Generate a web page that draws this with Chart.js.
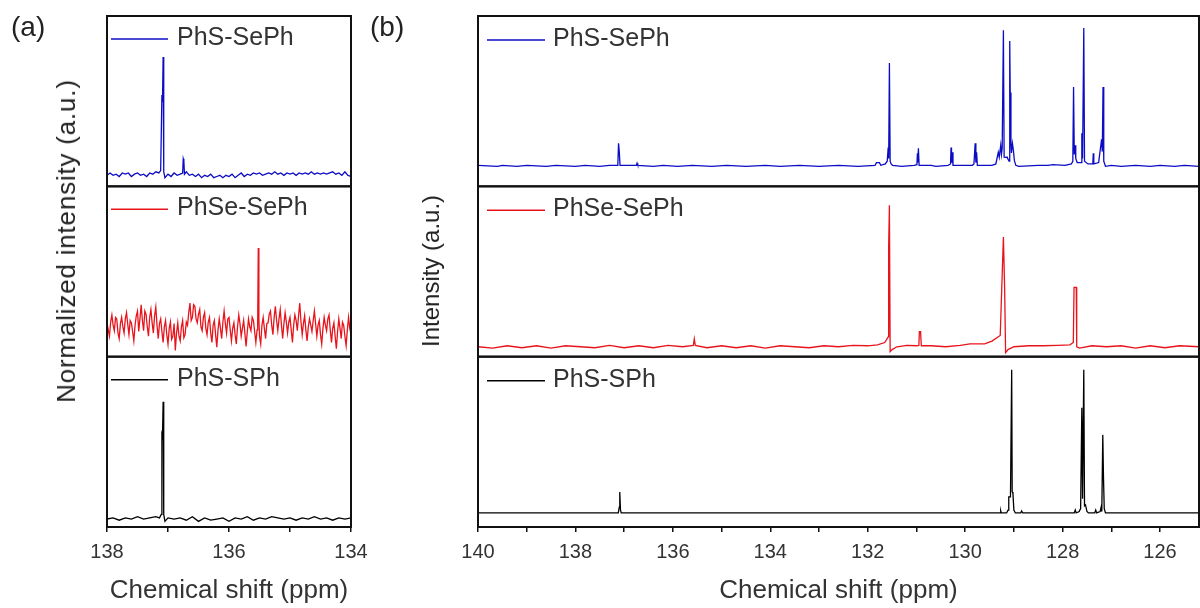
<!DOCTYPE html>
<html>
<head>
<meta charset="utf-8">
<script src="https://cdn.jsdelivr.net/npm/chart.js@4.4.1/dist/chart.umd.min.js"></script>
<style>
  body { margin: 0; background: #fff; font-family: "Liberation Sans", Arial, sans-serif; }
  #wrap { position: relative; width: 1200px; height: 608px; overflow: hidden; }
  canvas { position: absolute; top: 0; }
  #chartA { left: 0; }
  #chartB { left: 370px; }
  .lbl { position: absolute; color: #222; white-space: nowrap; line-height: 1; }
  .panel { font-size: 28px; top: 13px; }
  .ytitle { font-size: 26px; transform: translate(-50%, -50%) rotate(-90deg); }
</style>
</head>
<body>
<div id="wrap">
  <canvas id="chartA" width="380" height="608"></canvas>
  <canvas id="chartB" width="830" height="608"></canvas>
  <div class="lbl panel" style="left:11px">(a)</div>
  <div class="lbl panel" style="left:370px">(b)</div>
  <div class="lbl ytitle" style="left:66px; top:241px; letter-spacing:0.8px">Normalized intensity (a.u.)</div>
  <div class="lbl ytitle" style="left:431px; top:271px; font-size:24px">Intensity (a.u.)</div>
</div>
<script>
// panel (a): 138-134 ppm, [shift, intensity]
const aPhSSePh = [
  [138.00, 0.00], [137.95, 0.02], [137.90, 0.00], [137.85, 0.01], [137.80, -0.01], [137.75, 0.02],
  [137.70, 0.01], [137.65, 0.02], [137.60, -0.01], [137.55, 0.01], [137.50, 0.02], [137.45, 0.00],
  [137.40, 0.01], [137.35, -0.01], [137.30, 0.02], [137.25, 0.01], [137.20, 0.03], [137.15, 0.02],
  [137.12, 0.04], [137.10, 0.68], [137.09, 0.62], [137.08, 1.00], [137.07, 0.03], [137.05, -0.02],
  [137.00, 0.01], [136.95, -0.01], [136.90, 0.02], [136.85, 0.00], [136.80, 0.01], [136.76, 0.02],
  [136.75, 0.14], [136.74, 0.12], [136.73, 0.01], [136.70, 0.03], [136.65, 0.00], [136.60, 0.01],
  [136.55, -0.01], [136.50, 0.01], [136.45, -0.02], [136.40, 0.00], [136.35, -0.01], [136.30, 0.01],
  [136.25, -0.02], [136.20, -0.01], [136.15, 0.00], [136.10, -0.02], [136.05, 0.00], [136.00, -0.01],
  [135.95, 0.01], [135.90, -0.02], [135.85, 0.00], [135.80, 0.02], [135.75, -0.01], [135.70, 0.01],
  [135.65, 0.00], [135.60, 0.02], [135.55, 0.01], [135.50, 0.02], [135.45, 0.00], [135.40, 0.01],
  [135.35, 0.02], [135.30, 0.01], [135.25, 0.03], [135.20, 0.01], [135.15, 0.02], [135.10, 0.00],
  [135.05, 0.02], [135.00, 0.01], [134.95, 0.02], [134.90, 0.00], [134.85, 0.02], [134.80, 0.01],
  [134.75, 0.02], [134.70, 0.01], [134.65, 0.03], [134.60, 0.01], [134.55, 0.02], [134.50, 0.01],
  [134.45, 0.02], [134.40, 0.01], [134.35, 0.02], [134.30, 0.03], [134.25, 0.01], [134.20, 0.02],
  [134.15, 0.00], [134.10, 0.03], [134.05, 0.00], [134.00, -0.01]
];
const aPhSeSePh = [
  [138.00, 0.05], [137.98, -0.04], [137.96, -0.12], [137.94, 0.06], [137.92, 0.15], [137.90, 0.02],
  [137.88, -0.05], [137.86, 0.12], [137.84, 0.10], [137.82, -0.08], [137.80, -0.15], [137.78, 0.04],
  [137.76, 0.12], [137.74, 0.00], [137.72, -0.08], [137.70, 0.10], [137.68, 0.18], [137.66, 0.03],
  [137.64, -0.10], [137.62, 0.08], [137.60, 0.05], [137.58, -0.06], [137.56, -0.18], [137.54, 0.02],
  [137.52, 0.14], [137.50, 0.20], [137.48, -0.06], [137.46, 0.10], [137.44, 0.28], [137.42, 0.08],
  [137.40, -0.05], [137.38, 0.20], [137.36, 0.16], [137.34, 0.00], [137.32, -0.12], [137.30, 0.12],
  [137.28, 0.22], [137.26, 0.05], [137.24, -0.08], [137.22, 0.14], [137.20, 0.25], [137.18, 0.02],
  [137.16, -0.15], [137.14, 0.04], [137.12, 0.10], [137.10, -0.06], [137.08, -0.20], [137.06, 0.00],
  [137.04, 0.08], [137.02, -0.10], [137.00, -0.22], [136.98, -0.02], [136.96, 0.06], [136.94, -0.16],
  [136.92, -0.12], [136.90, 0.04], [136.88, -0.30], [136.86, -0.08], [136.84, 0.05], [136.82, -0.12],
  [136.80, -0.18], [136.78, 0.00], [136.76, 0.08], [136.74, -0.14], [136.72, -0.10], [136.70, 0.06],
  [136.68, 0.02], [136.66, 0.18], [136.64, 0.30], [136.62, 0.08], [136.60, 0.12], [136.58, 0.28],
  [136.56, 0.26], [136.54, 0.10], [136.52, 0.05], [136.50, 0.16], [136.48, 0.22], [136.46, 0.00],
  [136.44, -0.05], [136.42, 0.12], [136.40, 0.18], [136.38, -0.02], [136.36, -0.10], [136.34, 0.06],
  [136.32, 0.12], [136.30, -0.08], [136.28, -0.20], [136.26, 0.02], [136.24, 0.08], [136.22, -0.10],
  [136.20, -0.26], [136.18, -0.04], [136.16, 0.10], [136.14, -0.02], [136.12, -0.15], [136.10, 0.06],
  [136.08, 0.20], [136.06, 0.04], [136.04, -0.08], [136.02, 0.10], [136.00, 0.12], [135.98, -0.04],
  [135.96, -0.18], [135.94, -0.02], [135.92, 0.05], [135.90, -0.10], [135.88, -0.22], [135.86, 0.00],
  [135.84, 0.15], [135.82, 0.04], [135.80, -0.12], [135.78, -0.02], [135.76, 0.08], [135.74, -0.08],
  [135.72, -0.25], [135.70, -0.06], [135.68, 0.10], [135.66, 0.00], [135.64, -0.05], [135.62, 0.12],
  [135.60, 0.08], [135.58, -0.06], [135.56, -0.20], [135.54, -0.04], [135.53, 0.05], [135.52, 1.00],
  [135.51, 0.10], [135.50, -0.12], [135.48, -0.22], [135.46, 0.02], [135.44, 0.12], [135.42, -0.02],
  [135.40, -0.15], [135.38, 0.04], [135.36, 0.05], [135.34, 0.16], [135.32, 0.20], [135.30, 0.02],
  [135.28, -0.10], [135.26, 0.12], [135.24, 0.26], [135.22, 0.08], [135.20, -0.05], [135.18, 0.10],
  [135.16, 0.22], [135.14, 0.02], [135.12, -0.15], [135.10, 0.04], [135.08, 0.18], [135.06, 0.06],
  [135.04, -0.08], [135.02, 0.06], [135.00, 0.12], [134.98, -0.04], [134.96, -0.20], [134.94, 0.02],
  [134.92, 0.15], [134.90, 0.08], [134.88, -0.05], [134.86, 0.14], [134.84, 0.30], [134.82, 0.06],
  [134.80, -0.10], [134.78, 0.04], [134.76, 0.14], [134.74, -0.04], [134.72, -0.18], [134.70, 0.00],
  [134.68, 0.10], [134.66, 0.02], [134.64, -0.06], [134.62, 0.08], [134.60, 0.20], [134.58, 0.04],
  [134.56, -0.12], [134.54, 0.02], [134.52, 0.08], [134.50, -0.10], [134.48, -0.22], [134.46, -0.02],
  [134.44, 0.12], [134.42, 0.02], [134.40, -0.05], [134.38, 0.10], [134.36, 0.15], [134.34, -0.04],
  [134.32, -0.20], [134.30, -0.02], [134.28, 0.05], [134.26, -0.12], [134.24, -0.28], [134.22, -0.06],
  [134.20, 0.10], [134.18, -0.02], [134.16, -0.15], [134.14, 0.06], [134.12, 0.02], [134.10, -0.12],
  [134.08, -0.24], [134.06, -0.04], [134.04, 0.12], [134.02, -0.02], [134.00, -0.10]
];
const aPhSSPh = [
  [138.0, 0.00], [137.9, 0.01], [137.8, -0.01], [137.7, 0.01], [137.6, 0.00], [137.5, 0.02],
  [137.4, 0.00], [137.3, 0.01], [137.2, 0.02], [137.14, 0.01], [137.11, 0.04], [137.10, 0.72],
  [137.09, 0.70], [137.08, 1.00], [137.07, 0.04], [137.05, -0.02], [137.0, 0.01], [136.9, 0.00],
  [136.8, 0.01], [136.7, -0.01], [136.6, 0.02], [136.5, -0.02], [136.4, 0.01], [136.3, -0.01],
  [136.2, 0.00], [136.1, 0.01], [136.0, -0.02], [135.9, 0.01], [135.8, 0.00], [135.7, 0.02],
  [135.6, -0.01], [135.5, 0.01], [135.4, 0.00], [135.3, 0.02], [135.2, 0.01], [135.1, 0.00],
  [135.0, 0.01], [134.9, -0.01], [134.8, 0.01], [134.7, 0.00], [134.6, 0.02], [134.5, 0.00],
  [134.4, 0.01], [134.3, -0.01], [134.2, 0.01], [134.1, 0.00], [134.0, 0.01]
];

// panel (b): 140-125.2 ppm
const bPhSSePh = [
  [140.0, 0], [139.6, -0.007], [139.5, 0], [139.2, -0.007], [139.0, 0], [138.6, -0.007], [138.4, 0],
  [138.0, -0.007], [137.8, 0], [137.5, -0.007], [137.3, 0], [137.13, 0], [137.115, 0.16], [137.10, 0.10],
  [137.085, 0], [136.75, 0], [136.735, 0.015], [136.72, 0], [136.4, -0.007], [136.2, 0], [135.9, -0.007],
  [135.6, 0], [135.2, -0.007], [134.9, 0], [134.5, -0.007], [134.1, 0], [133.8, -0.007], [133.4, 0],
  [133.0, -0.007], [132.6, 0], [132.2, -0.007], [131.85, 0], [131.82, 0.02], [131.76, 0.02], [131.73, 0],
  [131.64, 0.01], [131.60, 0.03], [131.58, 0.13], [131.57, 0.05], [131.555, 0.745], [131.54, 0.03],
  [131.52, 0.01], [131.49, 0], [131.3, -0.007], [131.05, 0], [130.99, 0.005], [130.98, 0.088],
  [130.97, 0.02], [130.96, 0.124], [130.945, 0], [130.7, 0], [130.6, -0.007], [130.35, 0], [130.30, 0.01],
  [130.29, 0.13], [130.28, 0.02], [130.265, 0.095], [130.25, 0], [130.1, 0], [129.85, 0], [129.82, 0.01],
  [129.795, 0.16], [129.78, 0.02], [129.765, 0.095], [129.75, 0], [129.45, 0], [129.37, 0.01],
  [129.32, 0.095], [129.30, 0.06], [129.27, 0.146], [129.255, 0.08], [129.24, 0.124], [129.215, 0.985],
  [129.20, 0.06], [129.17, 0.058], [129.14, 0.06], [129.10, 0.03], [129.085, 0.905], [129.075, 0.53],
  [129.06, 0.16], [129.05, 0.09], [129.03, 0.16], [129.01, 0.11], [128.99, 0.036], [128.96, 0],
  [128.9, -0.007], [128.5, 0], [128.3, 0], [128.2, 0.005], [127.95, 0], [127.82, 0.01], [127.79, 0.03],
  [127.775, 0.57], [127.76, 0.08], [127.745, 0.146], [127.73, 0.05], [127.70, 0.02], [127.62, 0.02],
  [127.605, 0.234], [127.59, 0.05], [127.565, 1.0], [127.55, 0.03], [127.48, 0.01], [127.38, 0.01],
  [127.37, 0.088], [127.36, 0.01], [127.26, 0.02], [127.20, 0.19], [127.185, 0.10], [127.17, 0.57],
  [127.155, 0.03], [127.12, -0.007], [127.0, 0], [126.8, -0.007], [126.5, 0], [126.2, -0.007],
  [126.0, 0], [125.7, -0.007], [125.5, 0], [125.2, -0.007]
];
const bPhSeSePh = [
  [140.0, 0], [139.7, -0.01], [139.4, 0.007], [139.1, -0.007], [138.8, 0.007], [138.5, -0.01],
  [138.2, 0.007], [137.9, 0], [137.6, -0.007], [137.3, 0.01], [137.0, -0.007], [136.7, 0.007],
  [136.4, -0.007], [136.1, 0.01], [135.8, 0], [135.58, 0.01], [135.56, 0.056], [135.54, 0.01],
  [135.3, -0.007], [135.0, 0.007], [134.7, -0.007], [134.4, 0.007], [134.1, -0.01], [133.8, 0.007],
  [133.5, 0], [133.2, -0.007], [132.9, 0.007], [132.6, 0], [132.3, 0.01], [132.0, 0.007], [131.8, 0.014],
  [131.65, 0.03], [131.58, 0.07], [131.57, 0.72], [131.555, 1.0], [131.54, -0.035], [131.50, -0.02],
  [131.40, 0], [131.2, 0.01], [131.0, 0.007], [130.95, 0.01], [130.94, 0.106], [130.915, 0.106],
  [130.90, 0.007], [130.7, 0.007], [130.4, 0], [130.1, 0.01], [129.9, 0.02], [129.6, 0.02],
  [129.45, 0.04], [129.28, 0.08], [129.215, 0.775], [129.19, 0.42], [129.17, -0.042], [129.12, -0.02],
  [129.0, 0], [128.7, 0.007], [128.4, 0.007], [128.1, 0.01], [127.85, 0.014], [127.78, 0.03],
  [127.765, 0.42], [127.72, 0.42], [127.71, 0], [127.65, -0.01], [127.4, 0.007], [127.1, 0],
  [126.8, 0.007], [126.5, -0.01], [126.2, 0.007], [125.9, -0.007], [125.6, 0.007], [125.2, 0]
];
const bPhSSPh = [
  [140.0, 0], [139.0, 0], [138.0, 0], [137.3, 0], [137.12, 0], [137.10, 0.04], [137.09, 0.147],
  [137.075, 0.02], [137.06, 0], [135.0, 0], [133.0, 0], [131.0, 0], [129.4, 0], [129.28, 0],
  [129.27, 0.014], [129.26, 0], [129.15, 0], [129.12, 0.02], [129.105, 0.112], [129.07, 0.112],
  [129.045, 1.0], [129.035, 0.147], [129.02, 0.14], [129.0, 0.02], [128.97, 0], [128.86, 0],
  [128.84, 0.014], [128.82, 0], [127.76, 0], [127.74, 0.02], [127.72, 0], [127.66, 0.01], [127.63, 0.03],
  [127.605, 0.734], [127.59, 0.1], [127.565, 1.0], [127.55, 0.05], [127.53, 0.056], [127.50, 0.01],
  [127.47, 0], [127.34, 0], [127.32, 0.02], [127.30, 0], [127.23, 0.01], [127.21, 0.04], [127.195, 0.01],
  [127.175, 0.545], [127.16, 0.238], [127.145, 0.03], [127.12, 0], [126.0, 0], [125.2, 0]
];

const seriesNames = ["PhS-SePh", "PhSe-SePh", "PhS-SPh"];
const seriesColors = ["#0c0cc4", "#e8141c", "#000000"];

Chart.defaults.font.family = '"Liberation Sans", Arial, sans-serif';

const toXY = arr => arr.map(p => ({ x: p[0], y: p[1] }));

// boxes around each stacked panel + per-panel legend
const framePlugin = {
  id: "frames",
  afterDraw(chart, args, opts) {
    const { ctx, chartArea } = chart;
    ctx.save();
    chart.data.datasets.forEach(ds => {
      const s = chart.scales[ds.yAxisID];
      ctx.strokeStyle = "#111";
      ctx.lineWidth = 2;
      ctx.strokeRect(chartArea.left, s.top, chartArea.right - chartArea.left, s.bottom - s.top);
      const ly = s.top + opts.dy;
      ctx.strokeStyle = ds.borderColor;
      ctx.lineWidth = 1.5;
      ctx.beginPath();
      ctx.moveTo(chartArea.left + opts.line[0], ly);
      ctx.lineTo(chartArea.left + opts.line[1], ly);
      ctx.stroke();
      ctx.fillStyle = "#333";
      ctx.font = '25px "Liberation Sans", Arial, sans-serif';
      ctx.textBaseline = "middle";
      ctx.fillText(ds.label, chartArea.left + opts.text, ly - 1);
    });
    ctx.restore();
  }
};

function makeChart(id, spectra, xMin, xMax, yRanges, padding, legendPos) {
  const scales = {
    x: {
      type: "linear",
      reverse: true,
      min: xMin,
      max: xMax,
      afterFit: s => { s.height = 79; },
      grid: { display: true, drawOnChartArea: false, tickLength: 5, color: "#111", lineWidth: 1.5 },
      border: { display: true, color: "#111", width: 2 },
      ticks: {
        stepSize: 1,
        autoSkip: false,
        includeBounds: false,
        maxRotation: 0,
        padding: 8,
        color: "#333",
        font: { size: 20 },
        callback: v => (Math.abs(v % 2) < 1e-6 ? v : "")
      },
      title: { display: true, text: "Chemical shift (ppm)", color: "#333", font: { size: 26 }, padding: 0 }
    }
  };
  yRanges.forEach((r, i) => {
    scales["y" + (i + 1)] = {
      type: "linear",
      position: "left",
      stack: "spectra",
      stackWeight: 1,
      weight: 3 - i,
      display: false,
      min: r[0],
      max: r[1]
    };
  });
  return new Chart(document.getElementById(id), {
    type: "line",
    data: {
      datasets: spectra.map((sp, i) => ({
        label: seriesNames[i],
        data: toXY(sp),
        yAxisID: "y" + (i + 1),
        borderColor: seriesColors[i],
        borderWidth: 1.3,
        pointRadius: 0,
        tension: 0
      }))
    },
    options: {
      responsive: false,
      animation: false,
      layout: { padding: padding },
      plugins: { legend: { display: false }, tooltip: { enabled: false }, frames: legendPos },
      scales: scales
    },
    plugins: [framePlugin]
  });
}

makeChart("chartA", [aPhSSePh, aPhSeSePh, aPhSSPh], 134, 138,
  [[-0.093, 1.347], [-0.38, 1.785], [-0.068, 1.385]],
  { left: 107, right: 29, top: 16, bottom: 2 },
  { line: [4, 61], text: 70, dy: 23 });

makeChart("chartB", [bPhSSePh, bPhSeSePh, bPhSSPh], 125.2, 140,
  [[-0.153, 1.088], [-0.07, 1.134], [-0.098, 1.091]],
  { left: 108, right: 1, top: 16, bottom: 2 },
  { line: [9, 67], text: 75, dy: 24 });
</script>
</body>
</html>
